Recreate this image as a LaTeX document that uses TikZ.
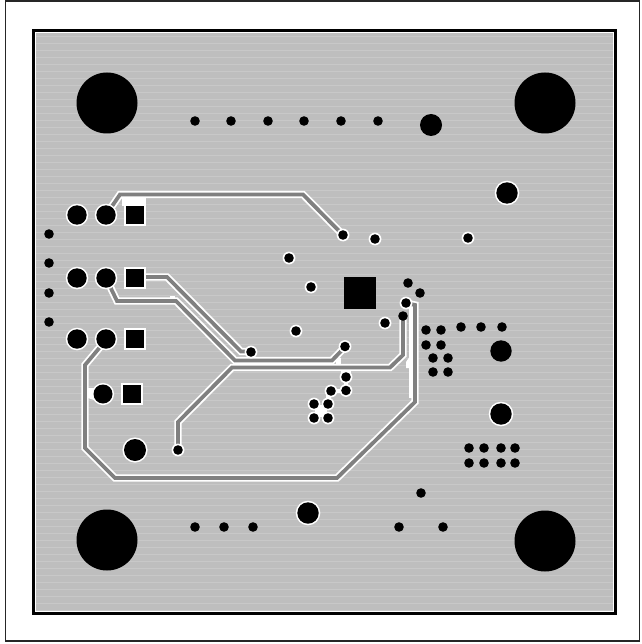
\documentclass[tikz,border=0pt]{standalone}
\definecolor{board}{HTML}{BEBEBE}
\definecolor{stripe}{HTML}{C8C8C8}
\definecolor{track}{HTML}{808080}
\tikzset{
  clear/.style={draw=white,line width=7.4pt,line join=miter,line cap=round},
  cu/.style={draw=track,line width=3.8pt,line join=miter},
  hole/.style={fill=black},
  halo/.style={fill=white},
}
\newcommand{\viaH}[3]{\fill[halo] (#1,#2) circle ({#3+1.6}); \fill[hole] (#1,#2) circle (#3);}
\newcommand{\viaN}[3]{\fill[hole] (#1,#2) circle (#3);}
\newcommand{\padS}[3]{\fill[halo] (#1-#3-1.5,#2-#3-1.5) rectangle (#1+#3+1.5,#2+#3+1.5); \fill[hole] (#1-#3,#2-#3) rectangle (#1+#3,#2+#3);}
\begin{document}
\begin{tikzpicture}[x=1pt,y=-1pt]
\useasboundingbox (0,0) rectangle (641,644);
\fill[white] (0,0) rectangle (641,644);
\draw[black!85,line width=1.3pt] (5.7,1) rectangle (639.8,641);
% board
\fill[board] (33,30) rectangle (616,614);
\foreach \y in {36,43,...,610} \draw[stripe,line width=0.7pt] (36,\y) -- (613,\y);
\draw[white,line width=1pt] (35.5,32.5) rectangle (613.5,611.5);
\draw[black,line width=2.4pt] (33.5,30.5) rectangle (615.5,613.5);
% clearances
\def\pA{(106,215) -- (120,194.5) -- (303,194.5) -- (343,235)}
\def\pB{(135,277) -- (167,277) -- (241,351.5) -- (251,351.5)}
\def\pC{(106,278) -- (117,301) -- (176,301) -- (235,360.5) -- (332,360.5) -- (345,347)}
\def\pD{(178,450) -- (178,422) -- (232,367.5) -- (390,367.5) -- (403,355) -- (403,315)}
\def\pE{(106,340) -- (85,365) -- (85,448) -- (115,478) -- (337,478) -- (415,402) -- (415,305) -- (406,303)}
\foreach \p in {\pA,\pB,\pC,\pD,\pE} \draw[clear] \p;
% merged clearance areas
\fill[white] (122,197) rectangle (146,206);
\fill[white] (409,303) -- (412,303) -- (412,398) -- (409,398) -- cycle;
\fill[white] (406,362) -- (410,356) -- (410,368) -- (406,368) -- cycle;
\fill[white] (88,388) -- (94,388) -- (94,400) -- (88,398) -- cycle;
\fill[white] (170,296) -- (175,296) -- (175,299) -- (170,299) -- cycle;
\fill[white] (336,358) -- (341,358) -- (341,364) -- (336,364) -- cycle;
\fill[white] (341,370) rectangle (351,374);
\foreach \p in {\pA,\pB,\pC,\pD,\pE} \draw[cu] \p;
% merged via clearance
\fill[white] (315,405) rectangle (327,417);
\fill[white] (326,395) -- (331,395) -- (331,400) -- (326,400) -- cycle;
\fill[white] (335,389) rectangle (342,393);
\fill[white] (344,380) rectangle (348,388);
% mounting holes
\viaN{107}{103}{30.5}
\viaN{545}{103}{30.5}
\viaN{107}{540}{30.5}
\viaN{545}{541}{30.5}
% top row
\foreach \x in {195,231,268,304,341,378} {\viaN{\x}{121}{4.8}}
\viaN{431}{125}{11}
\viaH{507}{193}{10.7}
% pads
\viaH{77}{215}{9.7}
\viaH{106}{215}{9.7}
\padS{135}{215}{9.3}
\viaH{77}{278}{9.7}
\viaH{106}{278}{9.7}
\padS{135}{278}{9.3}
\viaH{77}{339}{9.7}
\viaH{106}{339}{9.7}
\padS{135}{339}{9.3}
\viaH{103}{394}{9.5}
\padS{132}{394}{9.3}
\viaH{135}{450}{11}
\foreach \y in {234,263,293,322} {\viaN{49}{\y}{4.8}}
% central
\fill[hole] (344,277) rectangle (376,309);
\viaH{343}{235}{4.8}
\viaH{375}{239}{4.8}
\viaH{468}{238}{4.8}
\viaH{289}{258}{4.8}
\viaH{311}{287}{4.8}
\viaH{296}{331}{4.8}
\viaH{385}{323}{4.8}
\viaN{408}{283}{4.8}
\viaN{420}{293}{4.8}
\viaH{406}{303}{4.8}
\viaN{403}{316}{4.8}
\viaH{251}{352}{4.8}
\viaH{345}{346.5}{4.8}
\viaH{178}{450}{4.8}
\foreach \x/\y in {346/377,346/390.5,331/391,314/404,328/404,314/418,328/418} {\viaH{\x}{\y}{4.8}}
\foreach \x/\y in {426/330,441/330,426/345,441/345,433/358,448/358,433/372,448/372,461/327,481/327,502/327,469/448,484/448,501/448,515/448,469/463,484/463,501/463,515/463,421/493,399/527,443/527,195/527,224/527,253/527} {\viaN{\x}{\y}{4.8}}
\viaN{501}{351}{10.7}
\viaH{501}{414}{10.7}
\viaH{308}{513}{10.7}
\end{tikzpicture}
\end{document}
